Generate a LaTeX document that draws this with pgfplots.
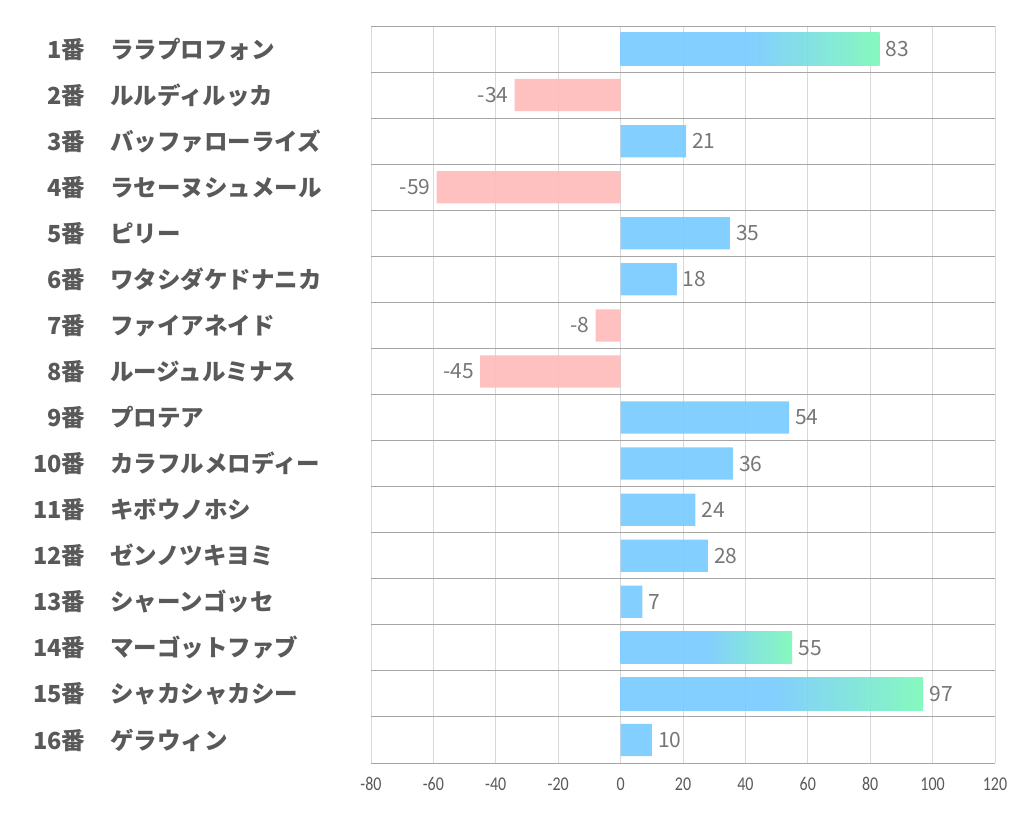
\documentclass[border=0pt]{standalone}
\usepackage{pgfplots}
\pgfplotsset{compat=1.18}
\usepackage{fontspec}
\setmainfont{Noto Sans CJK JP}
\newfontfamily\tickfont[FakeStretch=0.82]{Carlito}
\definecolor{barblue}{RGB}{122,203,255}
\definecolor{bargreen}{RGB}{125,248,185}
\definecolor{barpink}{RGB}{255,187,187}
\definecolor{lblgray}{RGB}{89,89,89}
\definecolor{valgray}{RGB}{118,118,118}
\definecolor{gridlight}{RGB}{217,217,217}
\definecolor{griddark}{RGB}{166,166,166}
\pgfdeclarehorizontalshading{bargrad}{100bp}{color(0bp)=(barblue); color(25bp)=(barblue); color(50bp)=(barblue); color(75bp)=(bargreen); color(100bp)=(bargreen)}
\newcommand{\lbl}[2]{\makebox[75pt][r]{#1}\hspace{25pt}#2}
\begin{document}
\begin{tikzpicture}
\useasboundingbox (0,0) rectangle (1022pt,834pt);
\begin{axis}[
  at={(371pt,71pt)}, anchor=south west,
  scale only axis, width=624pt, height=737pt,
  xbar, bar width=0.7, bar shift=0pt,
  xmin=-80, xmax=120, xtick={-80,-60,...,120},
  ymin=0.5, ymax=16.5, y dir=reverse,
  ytick={1,...,16},
  yticklabels={
    \lbl{1番}{ララプロフォン},
    \lbl{2番}{ルルディルッカ},
    \lbl{3番}{バッファローライズ},
    \lbl{4番}{ラセーヌシュメール},
    \lbl{5番}{ピリー},
    \lbl{6番}{ワタシダケドナニカ},
    \lbl{7番}{ファイアネイド},
    \lbl{8番}{ルージュルミナス},
    \lbl{9番}{プロテア},
    \lbl{10番}{カラフルメロディー},
    \lbl{11番}{キボウノホシ},
    \lbl{12番}{ゼンノツキヨミ},
    \lbl{13番}{シャーンゴッセ},
    \lbl{14番}{マーゴットファブ},
    \lbl{15番}{シャカシャカシー},
    \lbl{16番}{ゲラウィン}},
  minor ytick={0.5,1.5,...,16.5},
  yminorgrids=true, xmajorgrids=true,
  major grid style={draw=gridlight, line width=0.9pt},
  minor grid style={draw=griddark, line width=0.9pt},
  axis line style={draw=none},
  major tick length=0pt, minor tick length=0pt,
  tick style={draw=none},
  /pgf/number format/assume math mode=true,
  xticklabel style={font=\tickfont\fontsize{19.5}{19.5}\selectfont, text=lblgray, yshift=-11pt},
  yticklabel style={font=\bfseries\fontsize{23.5}{23.5}\selectfont, text=lblgray, anchor=west, inner sep=0pt, xshift=-361pt},
  nodes near coords,
  every node near coord/.append style={font=\fontsize{21}{21}\selectfont, text=valgray, fill opacity=1, text opacity=1, inner sep=6pt},
]
\addplot[draw=none, fill=barblue, fill opacity=0.93] coordinates {(21,3) (35,5) (18,6) (54,9) (36,10) (24,11) (28,12) (7,13) (10,16)};
\addplot[draw=none, fill=barpink, fill opacity=0.93] coordinates {(-34,2) (-59,4) (-8,7) (-45,8)};
\addplot[draw=none, shade, shading=bargrad, fill opacity=0.93] coordinates {(83,1)};
\addplot[draw=none, shade, shading=bargrad, fill opacity=0.93] coordinates {(55,14)};
\addplot[draw=none, shade, shading=bargrad, fill opacity=0.93] coordinates {(97,15)};
\end{axis}
\end{tikzpicture}
\end{document}
